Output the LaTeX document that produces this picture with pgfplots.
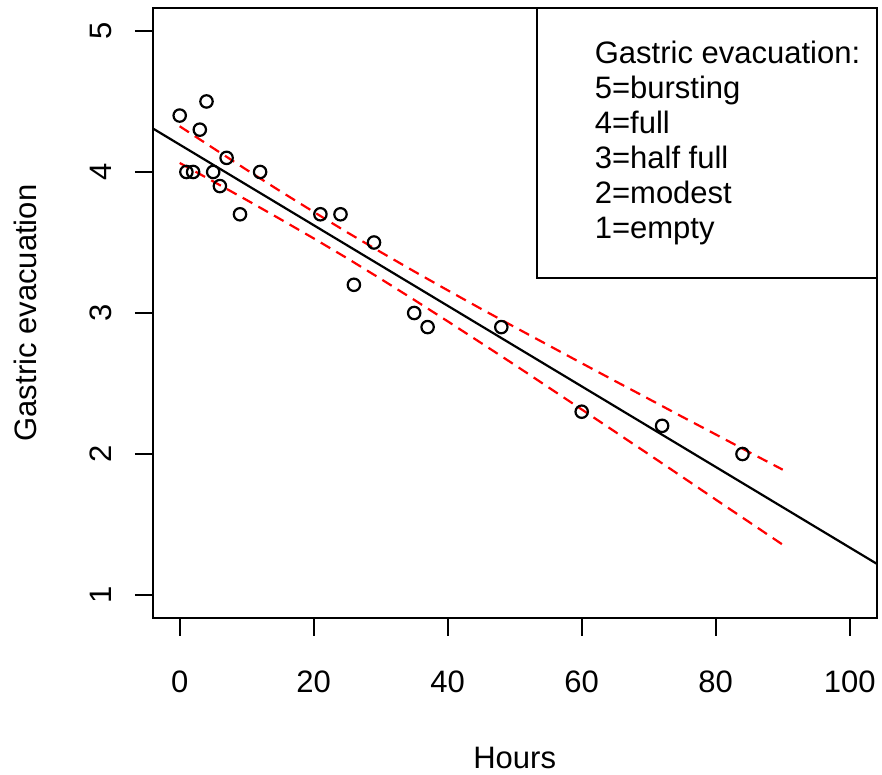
\documentclass[border=0pt]{standalone}
\usepackage{pgfplots}
\pgfplotsset{compat=1.18}
\usepackage{fontspec}
\setmainfont{Liberation Sans}
\begin{document}
\fontsize{15.5}{18}\selectfont
\begin{tikzpicture}[font=\fontsize{15.5}{18}\selectfont]
\useasboundingbox (-76.45pt,-78.7pt) rectangle (364.55pt,308.8pt);
\begin{axis}[
  at={(0,0)}, anchor=south west,
  scale only axis, width=361.8pt, height=304.6pt,
  xmin=-4, xmax=104, ymin=0.84, ymax=5.16,
  xtick={0,20,40,60,80,100}, ytick={1,2,3,4,5},
  tick align=outside, tick pos=left,
  major tick length=9pt,
  every tick/.style={black, line width=1pt},
  axis line style={line width=1pt},
  /pgf/number format/assume math mode=true,
  ticklabel style={font=\fontsize{15.5}{18}\selectfont},
  xticklabel style={anchor=base, yshift=-28.6pt},
  yticklabel style={rotate=90, anchor=base, yshift=11.8pt},
]
\addplot[only marks, mark=o, mark size=3.1pt, mark options={line width=1.1pt, black}] coordinates {
(0,4.4) (1,4.0) (2,4.0) (3,4.3) (4,4.5) (5,4.0) (6,3.9) (7,4.1) (9,3.7) (12,4.0)
(21,3.7) (24,3.7) (26,3.2) (29,3.5) (35,3.0) (37,2.9) (48,2.9) (60,2.3) (72,2.2) (84,2.0)};
\addplot[black, line width=1.1pt] coordinates {(-4,4.3083) (104,1.2227)};
\addplot[red, line width=1.1pt, dash pattern=on 5.5pt off 3.5pt] coordinates {
(0,4.324) (5,4.169) (10,4.015) (15,3.864) (20,3.717) (25,3.572) (30,3.432) (35,3.295) (40,3.161) (45,3.029)
(50,2.900) (55,2.772) (60,2.644) (65,2.517) (70,2.391) (75,2.264) (80,2.139) (85,2.013) (90,1.889)};
\addplot[red, line width=1.1pt, dash pattern=on 5.5pt off 3.5pt] coordinates {
(0,4.064) (5,3.933) (10,3.801) (15,3.666) (20,3.529) (25,3.388) (30,3.242) (35,3.093) (40,2.941) (45,2.787)
(50,2.632) (55,2.474) (60,2.316) (65,2.157) (70,1.998) (75,1.838) (80,1.677) (85,1.517) (90,1.357)};
\draw[line width=1pt] (axis cs:53.3,3.248) rectangle (axis cs:104,5.16);
\node[anchor=base west, inner sep=0pt] at (axis cs:61.9,4.771) {Gastric evacuation:};
\node[anchor=base west, inner sep=0pt] at (axis cs:61.9,4.523) {5=bursting};
\node[anchor=base west, inner sep=0pt] at (axis cs:61.9,4.274) {4=full};
\node[anchor=base west, inner sep=0pt] at (axis cs:61.9,4.026) {3=half full};
\node[anchor=base west, inner sep=0pt] at (axis cs:61.9,3.778) {2=modest};
\node[anchor=base west, inner sep=0pt] at (axis cs:61.9,3.530) {1=empty};
\end{axis}
\node[anchor=base] at (180.9pt,-75.3pt) {Hours};
\node[rotate=90, anchor=base] at (-58.1pt,152.3pt) {Gastric evacuation};
\end{tikzpicture}
\end{document}
